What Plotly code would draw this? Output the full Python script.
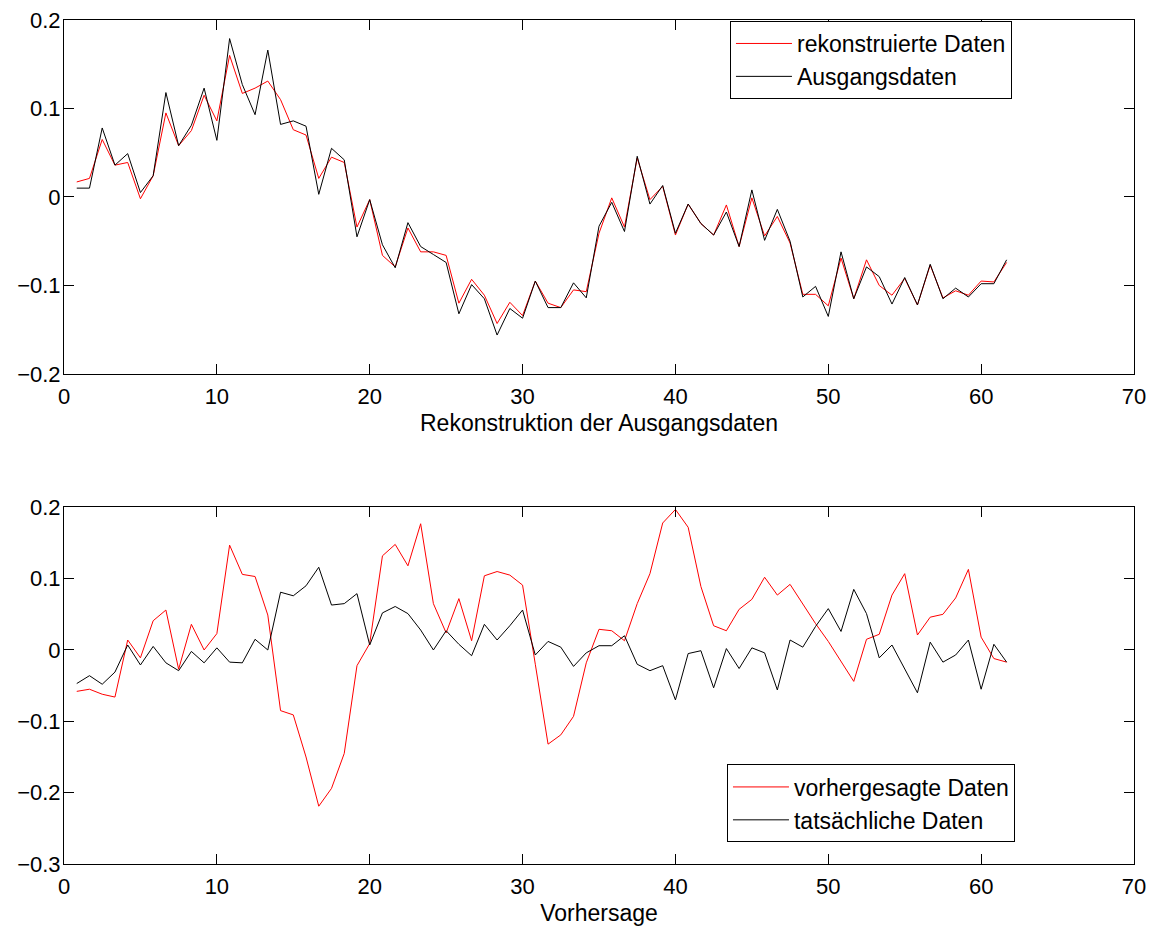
import numpy as np
import plotly.graph_objects as go
from plotly.subplots import make_subplots

# x positions: 74 samples, step 5/6
n_points = 74
x_vals = [i * 5.0 / 6.0 for i in range(1, n_points + 1)]

rekonstruiert = [0.017, 0.021, 0.065, 0.036, 0.039, -0.002, 0.024, 0.095, 0.058, 0.075,
                 0.115, 0.086, 0.160, 0.117, 0.123, 0.131, 0.110, 0.076, 0.070, 0.021,
                 0.045, 0.039, -0.034, -0.003, -0.066, -0.079, -0.035, -0.062, -0.062, -0.066,
                 -0.120, -0.093, -0.111, -0.143, -0.119, -0.134, -0.095, -0.120, -0.125, -0.105,
                 -0.107, -0.041, -0.001, -0.034, 0.044, -0.003, 0.012, -0.043, -0.008, -0.030,
                 -0.043, -0.009, -0.056, -0.001, -0.044, -0.022, -0.052, -0.110, -0.110, -0.123,
                 -0.069, -0.115, -0.071, -0.100, -0.111, -0.092, -0.122, -0.077, -0.114, -0.106,
                 -0.111, -0.095, -0.096, -0.074]

ausgang = [0.010, 0.010, 0.078, 0.036, 0.049, 0.005, 0.024, 0.118, 0.058, 0.081,
           0.123, 0.064, 0.179, 0.127, 0.093, 0.166, 0.082, 0.086, 0.080, 0.003,
           0.055, 0.042, -0.045, -0.003, -0.054, -0.080, -0.029, -0.056, -0.065, -0.074,
           -0.132, -0.099, -0.115, -0.156, -0.126, -0.137, -0.095, -0.125, -0.125, -0.097,
           -0.114, -0.033, -0.006, -0.039, 0.046, -0.008, 0.013, -0.041, -0.008, -0.030,
           -0.043, -0.017, -0.056, 0.008, -0.049, -0.014, -0.050, -0.113, -0.101, -0.135,
           -0.062, -0.115, -0.079, -0.090, -0.121, -0.091, -0.122, -0.076, -0.115, -0.103,
           -0.113, -0.098, -0.098, -0.071]

vorhergesagt = [-0.058, -0.055, -0.062, -0.066, 0.014, -0.011, 0.041, 0.056, -0.027, 0.036,
                0.000, 0.023, 0.147, 0.106, 0.103, 0.049, -0.085, -0.091, -0.150, -0.219,
                -0.194, -0.145, -0.022, 0.009, 0.132, 0.148, 0.118, 0.177, 0.065, 0.024,
                0.072, 0.013, 0.104, 0.110, 0.105, 0.091, -0.020, -0.132, -0.119, -0.093,
                -0.018, 0.029, 0.027, 0.013, 0.065, 0.107, 0.178, 0.197, 0.172, 0.089,
                0.034, 0.027, 0.057, 0.071, 0.102, 0.077, 0.092, 0.064, 0.037, 0.012,
                -0.016, -0.044, 0.015, 0.022, 0.077, 0.107, 0.021, 0.046, 0.050, 0.073,
                0.113, 0.018, -0.012, -0.017]

tatsaechlich = [-0.047, -0.036, -0.048, -0.031, 0.007, -0.021, 0.005, -0.018, -0.029, -0.002,
                -0.018, 0.003, -0.017, -0.018, 0.015, 0.000, 0.081, 0.076, 0.090, 0.116,
                0.063, 0.065, 0.079, 0.007, 0.052, 0.061, 0.051, 0.028, 0.000, 0.027,
                0.008, -0.008, 0.036, 0.014, 0.034, 0.056, -0.007, 0.012, 0.004, -0.023,
                -0.004, 0.006, 0.006, 0.020, -0.020, -0.029, -0.022, -0.070, -0.005, -0.001,
                -0.053, 0.002, -0.026, 0.003, -0.004, -0.056, 0.014, 0.004, 0.033, 0.058,
                0.026, 0.085, 0.051, -0.011, 0.007, -0.027, -0.060, 0.011, -0.017, -0.007,
                0.014, -0.055, 0.008, -0.017]

x_ticks = [0, 10, 20, 30, 40, 50, 60, 70]
y_ticks_top = [-0.2, -0.1, 0, 0.1, 0.2]
y_ticks_bottom = [-0.3, -0.2, -0.1, 0, 0.1, 0.2]

FONT = "Liberation Sans, Arial, Helvetica, sans-serif"

fig = make_subplots(rows=2, cols=1)

fig.add_trace(go.Scatter(x=x_vals, y=rekonstruiert, mode="lines", name="rekonstruierte Daten",
                         line=dict(color="#ff0000", width=1), legend="legend"), row=1, col=1)
fig.add_trace(go.Scatter(x=x_vals, y=ausgang, mode="lines", name="Ausgangsdaten",
                         line=dict(color="#000000", width=1), legend="legend"), row=1, col=1)
fig.add_trace(go.Scatter(x=x_vals, y=vorhergesagt, mode="lines", name="vorhergesagte Daten",
                         line=dict(color="#ff0000", width=1), legend="legend2"), row=2, col=1)
fig.add_trace(go.Scatter(x=x_vals, y=tatsaechlich, mode="lines", name="tatsächliche Daten",
                         line=dict(color="#000000", width=1), legend="legend2"), row=2, col=1)

axis_common = dict(showline=True, linecolor="black", linewidth=1, mirror="ticks",
                   ticks="inside", ticklen=10, tickcolor="black", tickwidth=1,
                   showgrid=False, zeroline=False, automargin=False,
                   ticklabeloverflow="allow",
                   tickfont=dict(family=FONT, size=22, color="black"))

fig.update_xaxes(range=[0, 70], tickvals=x_ticks, ticklabelstandoff=3, **axis_common)
fig.update_yaxes(ticklabelstandoff=-2, **axis_common)
fig.update_yaxes(range=[-0.2, 0.2], tickvals=y_ticks_top, row=1, col=1)
fig.update_yaxes(range=[-0.3, 0.2], tickvals=y_ticks_bottom, row=2, col=1)

fig.update_layout(
    template="none",
    width=1146, height=918,
    margin=dict(l=56, r=20, t=12, b=62, pad=0),
    paper_bgcolor="white", plot_bgcolor="white",
    font=dict(family=FONT, size=22, color="black"),
    xaxis=dict(domain=[0, 1], title=dict(text="Rekonstruktion der Ausgangsdaten",
                                        font=dict(family=FONT, size=23), standoff=6)),
    yaxis=dict(domain=[0.5806, 1.0]),
    xaxis2=dict(domain=[0, 1], title=dict(text="Vorhersage",
                                         font=dict(family=FONT, size=23), standoff=6)),
    yaxis2=dict(domain=[0.0, 0.4226]),
    legend=dict(x=0.6224, y=0.9988, xanchor="left", yanchor="top",
                bgcolor="white", bordercolor="black", borderwidth=1, itemwidth=56,
                font=dict(family=FONT, size=23), tracegroupgap=0),
    legend2=dict(x=0.6196, y=0.0717, xanchor="left", yanchor="middle",
                 bgcolor="white", bordercolor="black", borderwidth=1, itemwidth=56,
                 font=dict(family=FONT, size=23), tracegroupgap=0),
    showlegend=True,
)

fig.write_html("out.html")
